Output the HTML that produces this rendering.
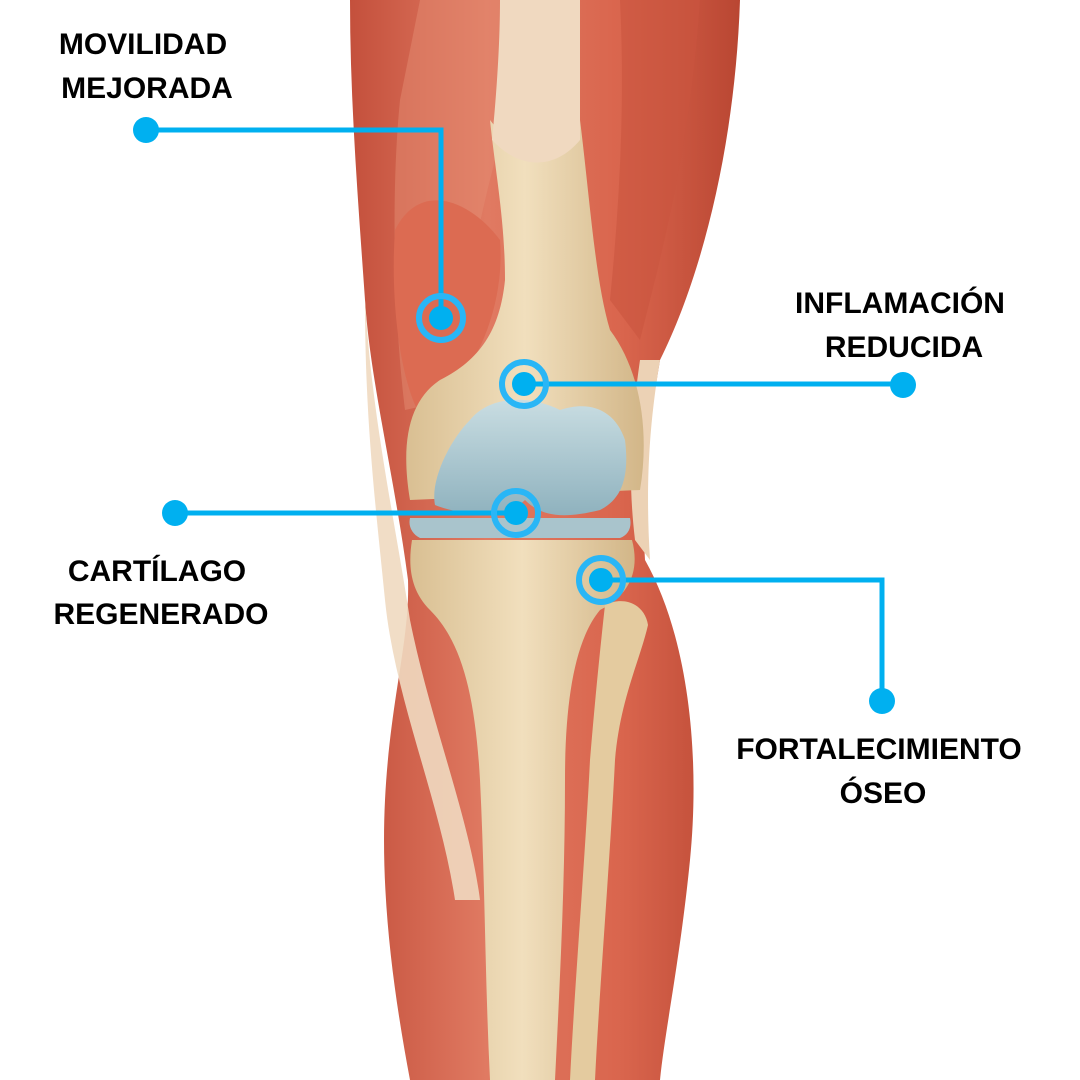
<!DOCTYPE html>
<html><head><meta charset="utf-8"><style>
html,body{margin:0;padding:0;background:#fff;}
svg{display:block;}
text{font-family:"Liberation Sans",Arial,sans-serif;font-weight:bold;font-size:30px;fill:#000;text-anchor:middle;}
</style></head><body>
<svg width="1080" height="1080" viewBox="0 0 1080 1080" xmlns="http://www.w3.org/2000/svg">
<defs>
<linearGradient id="mus" x1="0" x2="1" y1="0" y2="0">
<stop offset="0" stop-color="#c4503c"/><stop offset="0.35" stop-color="#e07a62"/><stop offset="0.7" stop-color="#d9654d"/><stop offset="1" stop-color="#b94632"/>
</linearGradient>
<linearGradient id="bone" x1="0" x2="1" y1="0" y2="0">
<stop offset="0" stop-color="#d9bf92"/><stop offset="0.5" stop-color="#f1dfbd"/><stop offset="1" stop-color="#d2b688"/>
</linearGradient>
<linearGradient id="cart" x1="0" x2="0" y1="0" y2="1">
<stop offset="0" stop-color="#c9dde2"/><stop offset="1" stop-color="#8fb2be"/>
</linearGradient>
</defs>
<path d="M350,0 L740,0 C735,150 700,280 660,360 C650,420 640,480 645,560 C690,640 700,760 690,860 C680,960 665,1030 660,1080 L410,1080 C395,1000 380,900 385,800 C390,700 410,640 408,580 C395,480 370,380 365,300 C358,200 350,100 350,0 Z" fill="url(#mus)"/>
<path d="M420,0 L520,0 C520,60 505,120 490,180 C470,260 460,330 450,400 L405,410 C395,330 390,200 400,100 Z" fill="#e48b72" opacity="0.5"/>
<path d="M620,0 L700,0 C690,150 660,260 640,340 L610,300 C620,200 625,100 620,0 Z" fill="#c9553f" opacity="0.6"/>
<path d="M395,230 C420,180 470,200 500,240 C505,300 480,380 420,415 C400,380 390,300 395,230 Z" fill="#dc6b52"/>
<path d="M365,300 C372,420 395,520 410,620 C430,720 470,820 480,900 L455,900 C440,800 395,700 385,600 C375,500 365,420 365,300 Z" fill="#efd9c0" opacity="0.9"/>
<path d="M640,360 C630,430 628,480 635,540 L650,560 C645,480 650,420 660,360 Z" fill="#ecd2b5"/>
<path d="M490,120 C520,160 560,150 580,120 C590,200 595,280 610,330 C640,370 650,430 640,490 L410,500 C400,440 410,400 440,380 C480,360 500,330 505,280 C505,220 495,170 490,120 Z" fill="url(#bone)"/>
<path d="M500,0 L580,0 C580,60 580,100 580,140 C555,170 520,170 492,140 C497,90 500,40 500,0 Z" fill="#f0d9c0"/>
<path d="M470,420 C490,395 530,395 560,410 C590,400 615,410 625,440 C630,480 620,500 600,510 C560,520 540,515 525,500 C505,520 460,515 435,505 C430,480 450,440 470,420 Z" fill="url(#cart)"/>
<path d="M410,518 L630,518 C632,528 628,535 620,538 L420,538 C412,534 408,526 410,518 Z" fill="#a9c4cc"/>
<path d="M412,540 L632,540 C640,570 630,595 600,610 C575,640 565,700 565,780 C565,880 560,980 555,1080 L490,1080 C485,980 485,880 480,780 C475,690 460,640 430,610 C410,590 408,565 412,540 Z" fill="url(#bone)"/>
<path d="M605,605 C625,595 645,605 648,625 C640,660 620,700 615,760 C610,860 600,980 595,1080 L570,1080 C575,980 585,860 590,760 C595,700 600,650 605,605 Z" fill="#e4cb9f"/>
<g stroke="#00b0f0" stroke-width="5" fill="none">
<polyline points="146,130 441,130 441,318"/>
<line x1="524" y1="384" x2="903" y2="384"/>
<line x1="175" y1="513" x2="516" y2="513"/>
<polyline points="601,580 882,580 882,701"/>
</g>
<g stroke="#29b6f6" stroke-width="6" fill="none">
<circle cx="441" cy="318" r="22"/>
<circle cx="524" cy="384" r="22"/>
<circle cx="516" cy="513" r="22"/>
<circle cx="601" cy="580" r="22"/>
</g>
<g fill="#00b0f0">
<circle cx="441" cy="318" r="12"/>
<circle cx="524" cy="384" r="12"/>
<circle cx="516" cy="513" r="12"/>
<circle cx="601" cy="580" r="12"/>
<circle cx="146" cy="130" r="13"/>
<circle cx="903" cy="385" r="13"/>
<circle cx="175" cy="513" r="13"/>
<circle cx="882" cy="701" r="13"/>
</g>
<text x="143" y="54">MOVILIDAD</text>
<text x="147" y="98">MEJORADA</text>
<text x="900" y="313">INFLAMACIÓN</text>
<text x="904" y="357">REDUCIDA</text>
<text x="157" y="581">CARTÍLAGO</text>
<text x="161" y="624">REGENERADO</text>
<text x="879" y="759">FORTALECIMIENTO</text>
<text x="883" y="803">ÓSEO</text>
</svg>
</body></html>
